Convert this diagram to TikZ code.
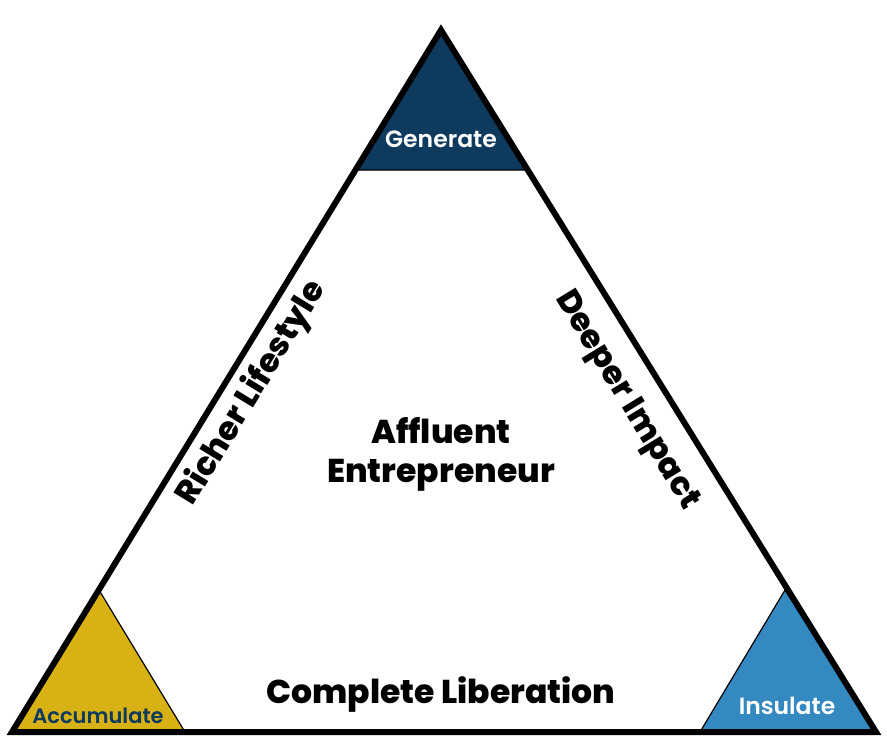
\documentclass[tikz,border=0pt]{standalone}
\usepackage{fontspec}
\setmainfont{Poppins}
\newfontfamily\popsb{Poppins}[UprightFont=* SemiBold]
\newfontfamily\popxb{Poppins}[UprightFont=* ExtraBold]
\definecolor{navy}{HTML}{0E3A5E}
\definecolor{gold}{HTML}{D8B114}
\definecolor{sky}{HTML}{3589C1}
\begin{document}
\begin{tikzpicture}[x=1pt,y=-1pt,
  corner/.style={draw=black,line width=1.2pt,line join=miter},
  cornerlbl/.style={font=\popsb\fontsize{23.5}{26}\selectfont,inner sep=0pt},
  sidelbl/.style={font=\popxb\fontsize{32.5}{36}\selectfont,inner sep=0pt},
  bigtri/.style={draw=black,line width=6pt,line join=miter,miter limit=20}]
\useasboundingbox (0,0) rectangle (887,753);
\coordinate (T) at (441,30);
\coordinate (L) at (12,732);
\coordinate (R) at (876,732);
% corner triangles
\filldraw[corner,fill=navy] (T) -- (355.5,170) -- (526.5,170) -- cycle;
\filldraw[corner,fill=gold] (L) -- (99,590) -- (185,732) -- cycle;
\filldraw[corner,fill=sky] (R) -- (785,590) -- (700,732) -- cycle;
\draw[bigtri] (T) -- (L) -- (R) -- cycle;
\node[cornerlbl,text=white] (gen) at (441,139) {Generate};
\node[cornerlbl,text=navy,font=\popsb\fontsize{21}{24}\selectfont] (acc) at (98,716) {Accumulate};
\node[cornerlbl,text=white] (ins) at (787,706) {Insulate};
\node[sidelbl,align=center,font=\popxb\fontsize{33}{39}\selectfont] (ae) at (441,454) {Affluent\\Entrepreneur};
\node[sidelbl,font=\popxb\fontsize{33}{38}\selectfont] (cl) at (441,694) {Complete Liberation};
\node[sidelbl,rotate=58.57] (rl) at (252,393) {Richer Lifestyle};
\node[sidelbl,rotate=-58.57] (di) at (626,401) {Deeper Impact};
\end{tikzpicture}
\end{document}
